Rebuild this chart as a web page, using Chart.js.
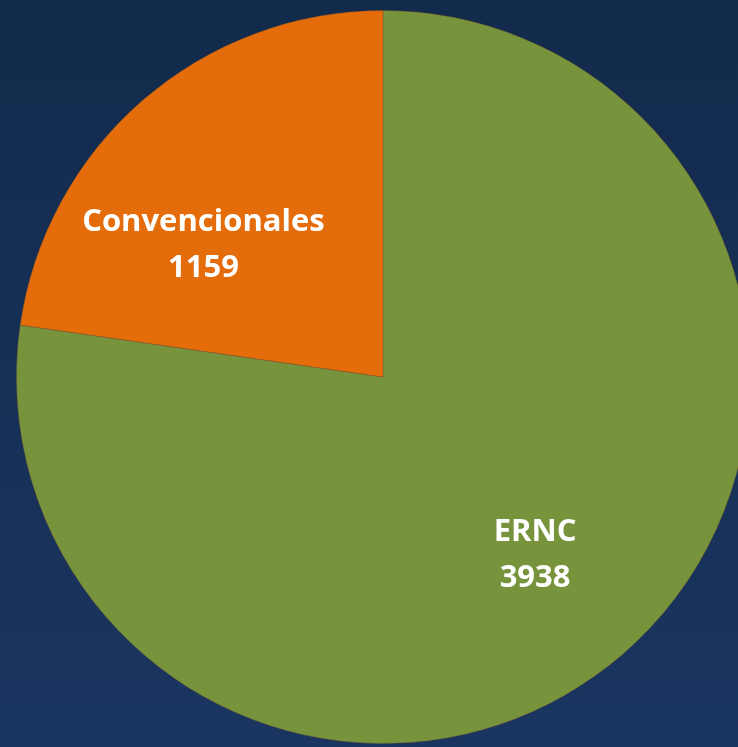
<!DOCTYPE html>
<html>
<head>
<meta charset="utf-8">
<script src="https://cdn.jsdelivr.net/npm/chart.js@4.4.1/dist/chart.umd.min.js"></script>
<style>
  html, body { margin: 0; padding: 0; width: 738px; height: 747px; overflow: hidden; }
  body { background: linear-gradient(to bottom, #122a4b 0%, #1a3560 100%); position: relative; }
  #wrap { position: absolute; left: 16px; top: 10px; width: 734px; height: 734px; }
</style>
</head>
<body>
<div id="wrap"><canvas id="pie"></canvas></div>
<script>
// ================= DATA =================
const labels = ["ERNC", "Convencionales"];
const values = [3938, 1159];
const colors = ["#77933C", "#E46C0A"];

// ================= LABEL PLUGIN =================
// label anchor as fraction of radius from pie center (x, y)
const labelOffsets = [[0.415, 0.486], [-0.49, -0.36]];

const sliceLabels = {
  id: "sliceLabels",
  afterDatasetsDraw(chart) {
    const ctx = chart.ctx;
    const meta = chart.getDatasetMeta(0);
    ctx.save();
    ctx.fillStyle = "#ffffff";
    ctx.font = "bold 31px 'Open Sans', sans-serif";
    ctx.textAlign = "center";
    ctx.textBaseline = "middle";
    meta.data.forEach((arc, i) => {
      const x = arc.x + labelOffsets[i][0] * arc.outerRadius;
      const y = arc.y + labelOffsets[i][1] * arc.outerRadius;
      ctx.fillText(labels[i], x, y - 23);
      ctx.fillText(String(values[i]), x, y + 23);
    });
    ctx.restore();
  }
};

new Chart(document.getElementById("pie"), {
  type: "pie",
  data: {
    labels: labels,
    datasets: [{
      data: values,
      backgroundColor: colors,
      borderColor: "rgba(120,80,40,0.35)",
      borderWidth: 1
    }]
  },
  options: {
    responsive: true,
    maintainAspectRatio: false,
    animation: false,
    layout: { padding: 0 },
    plugins: { legend: { display: false }, tooltip: { enabled: false } }
  },
  plugins: [sliceLabels]
});
</script>
</body>
</html>
